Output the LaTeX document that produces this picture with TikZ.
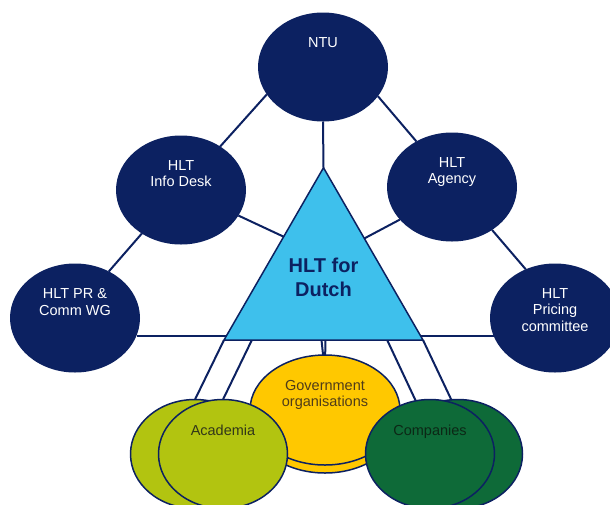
\documentclass[tikz,border=0pt]{standalone}
\usepackage{fontspec}
\setmainfont{Liberation Sans}
\usetikzlibrary{shapes.geometric,positioning,calc,backgrounds}
\definecolor{navy}{RGB}{12,33,97}
\definecolor{sky}{RGB}{62,192,236}
\definecolor{lime}{RGB}{178,196,16}
\definecolor{gold}{RGB}{255,200,0}
\definecolor{forest}{RGB}{14,106,56}
\tikzset{every node/.style={inner sep=0pt,outer sep=0pt}}

\begin{document}
\begin{tikzpicture}[x=1pt,y=-1pt]
\useasboundingbox (0,0) rectangle (610,504);
\clip (0,0) rectangle (610,504);

\tikzstyle{nv}=[ellipse,fill=navy,minimum width=130pt,minimum height=109pt]
\tikzstyle{bub}=[ellipse,draw=navy,line width=1.5pt,minimum width=129pt,minimum height=109pt]
\tikzstyle{lbl}=[align=center,font=\fontsize{14.5}{16.5}\selectfont]
\tikzstyle{ln}=[navy,line width=2pt]

% partners round the hub
\node[nv] (ntu) at (323,67) {};
\node[nv] (info) at (181,190) {};
\node[nv] (agency) at (452,187) {};
\node[nv] (pr) at (75,318) {};
\node[nv] (pricing) at (555,318) {};

\node[lbl,white,below=25pt of ntu.north] (t-ntu) {NTU};
\node[lbl,white,below=25pt of info.north] (t-info) {HLT\\Info Desk};
\node[lbl,white,below=25pt of agency.north] (t-agency) {HLT\\Agency};
\node[lbl,white,below=25pt of pr.north] (t-pr) {HLT PR \&\\Comm WG};
\node[lbl,white,below=25pt of pricing.north] (t-pricing) {HLT\\Pricing\\committee};

% the hub
\node[regular polygon,regular polygon sides=3,minimum size=230pt,
      fill=sky,draw=navy,line width=1.5pt] (tri) at (323.5,282.7) {};
\node[align=center,text=navy,font=\fontsize{20}{24}\selectfont\bfseries]
      (hlt) at (323.5,277.7) {HLT for\\Dutch};

% user groups, back one first
\node[bub,fill=gold,minimum width=150pt,minimum height=110pt] (govb) at (325,418) {};
\node[bub,fill=gold,minimum width=150pt,minimum height=110pt] (gov) at (325,410) {};
\node[bub,fill=lime] (acadb) at (195,454) {};
\node[bub,fill=lime] (acad) at (223,454) {};
\node[bub,fill=forest] (compb) at (458,454) {};
\node[bub,fill=forest] (comp) at (430,454) {};

\node[lbl,text={rgb,255:red,80;green,60;blue,25},below=25pt of gov.north] (t-gov) {Government\\organisations};
\node[lbl,text={rgb,255:red,50;green,55;blue,25},below=25pt of acad.north] (t-acad) {Academia};
\node[lbl,text={rgb,255:red,12;green,40;blue,22},below=25pt of comp.north] (t-comp) {Companies};

\begin{scope}[on background layer]
% outer ring
\draw[ln] (ntu.206) -- (info.48);
\draw[ln] (info.228) -- (pr.54);
\draw[ln] (ntu.332) -- (agency.128);
\draw[ln] (agency.313) -- (pricing.121);
\draw[ln] (pr.-16) -- (pricing.196);
% spokes to the hub
\draw[ln] (ntu.south) -- (tri.corner 1);
\draw[ln] (info.336) -- ($(tri.corner 1)!0.4!(tri.corner 2)$);
\draw[ln] (agency.212) -- ($(tri.corner 1)!0.41!(tri.corner 3)$);
% hub to user groups
\draw[ln] (tri.corner 2) -- (acadb.north);
\draw[ln] ($(tri.corner 2)!0.14!(tri.corner 3)$) -- (acad.north);
\draw[ln] ($(tri.corner 2)!0.49!(tri.corner 3)$) -- (gov.92);
\draw[ln] ($(tri.corner 2)!0.51!(tri.corner 3)$) -- (govb.north);
\draw[ln] ($(tri.corner 3)!0.18!(tri.corner 2)$) -- (comp.105);
\draw[ln] (tri.corner 3) -- (compb.97);
\end{scope}

\end{tikzpicture}
\end{document}
